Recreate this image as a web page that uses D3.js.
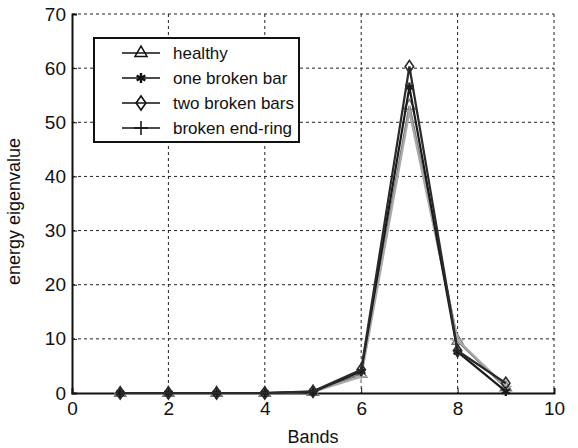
<!DOCTYPE html>
<html>
<head>
<meta charset="utf-8">
<script src="https://cdn.jsdelivr.net/npm/d3@7"></script>
<style>
  body { margin: 0; background: #fff; }
  text { font-family: "Liberation Sans", Arial, sans-serif; fill: #111; }
</style>
</head>
<body>
<svg id="chart"></svg>
<script>
// bands on x, energy on y
var bands = [1, 2, 3, 4, 5, 6, 7, 8, 9];
var healthy = [0, 0, 0, 0, 0.2, 3.5, 53, 9.6, 1.0];
var oneBar = [0, 0, 0, 0, 0.2, 4.0, 56.5, 7.6, 0.3];
var twoBars = [0, 0, 0, 0, 0.3, 4.3, 60.3, 7.8, 1.8];
var endRing = [0, 0, 0, 0, 0.2, 3.0, 52, 9.8, 1.2];
var seriesNames = ['healthy', 'one broken bar', 'two broken bars', 'broken end-ring'];
var xTicks = [0, 2, 4, 6, 8, 10];
var yTicks = [0, 10, 20, 30, 40, 50, 60, 70];

var margin = {top: 14, right: 24, bottom: 55, left: 72};
var width = 578 - margin.left - margin.right;
var height = 448 - margin.top - margin.bottom;

var svg = d3.select('#chart')
  .attr('width', 578)
  .attr('height', 448);

var g = svg.append('g')
  .attr('transform', 'translate(' + margin.left + ',' + margin.top + ')');

var x = d3.scaleLinear().domain([0, 10]).range([0, width]);
var y = d3.scaleLinear().domain([0, 70]).range([height, 0]);

// grid (dashed)
g.selectAll('.vgrid')
  .data(xTicks.slice(1))
  .enter().append('line')
    .attr('x1', d => x(d)).attr('x2', d => x(d))
    .attr('y1', 0).attr('y2', height)
    .attr('stroke', '#222').attr('stroke-width', 1)
    .attr('stroke-dasharray', '3,3');
g.selectAll('.hgrid')
  .data(yTicks.slice(1))
  .enter().append('line')
    .attr('x1', 0).attr('x2', width)
    .attr('y1', d => y(d)).attr('y2', d => y(d))
    .attr('stroke', '#222').attr('stroke-width', 1)
    .attr('stroke-dasharray', '3,3');

// axes
var xAxis = d3.axisBottom(x).tickValues(xTicks).tickSize(-5).tickPadding(9);
var yAxis = d3.axisLeft(y).tickValues(yTicks).tickSize(-5).tickPadding(6);

var gx = g.append('g')
  .attr('transform', 'translate(0,' + height + ')')
  .call(xAxis);
var gy = g.append('g').call(yAxis);

[gx, gy].forEach(function(a) {
  a.select('.domain').attr('stroke', '#111').attr('stroke-width', 2);
  a.selectAll('.tick line').attr('stroke', '#111');
  a.selectAll('text').style('font-size', '19px').attr('fill', '#111');
});

g.append('text')
  .attr('x', width / 2)
  .attr('y', height + 50)
  .attr('text-anchor', 'middle')
  .style('font-size', '18px')
  .text('Bands');

g.append('text')
  .attr('transform', 'rotate(-90)')
  .attr('x', -height / 2 - 8)
  .attr('y', -52)
  .attr('text-anchor', 'middle')
  .style('font-size', '18px')
  .text('energy eigenvalue');

var series = [
  {name: seriesNames[0], values: healthy, color: '#777', marker: 'triangle'},
  {name: seriesNames[3], values: endRing, color: '#aaa', marker: 'plus'},
  {name: seriesNames[1], values: oneBar, color: '#1a1a1a', marker: 'star'},
  {name: seriesNames[2], values: twoBars, color: '#2a2a2a', marker: 'diamond'}
];

var line = d3.line()
  .x((d, i) => x(bands[i]))
  .y(d => y(d));

function drawMarker(sel, type, color, size) {
  if (type === 'triangle') {
    sel.append('path')
      .attr('d', d3.symbol().type(d3.symbolTriangle).size(size * 9))
      .attr('fill', 'none').attr('stroke', color).attr('stroke-width', 1.5);
  } else if (type === 'diamond') {
    sel.append('path')
      .attr('d', 'M0,-' + size + 'L' + (size * 0.7) + ',0L0,' + size + 'L-' + (size * 0.7) + ',0Z')
      .attr('fill', 'none').attr('stroke', color).attr('stroke-width', 1.6);
  } else if (type === 'star') {
    sel.append('path')
      .attr('d', d3.symbol().type(d3.symbolAsterisk).size(size * 10))
      .attr('fill', 'none').attr('stroke', color).attr('stroke-width', 2.4);
  } else {
    sel.append('path')
      .attr('d', 'M-' + size + ',0H' + size + 'M0,-' + size + 'V' + size)
      .attr('fill', 'none').attr('stroke', color).attr('stroke-width', 1.5);
  }
}

series.forEach(function(s) {
  g.append('path')
    .datum(s.values)
    .attr('d', line)
    .attr('fill', 'none')
    .attr('stroke', s.color)
    .attr('stroke-width', 2.2);
  s.values.forEach(function(v, i) {
    var m = g.append('g')
      .attr('transform', 'translate(' + x(bands[i]) + ',' + y(v) + ')');
    drawMarker(m, s.marker, s.color, 6);
  });
});

// legend
var legend = svg.append('g').attr('transform', 'translate(94,38)');
legend.append('rect')
  .attr('width', 205).attr('height', 104)
  .attr('fill', '#fff').attr('stroke', '#111').attr('stroke-width', 2);

var legendItems = [
  {name: seriesNames[0], marker: 'triangle'},
  {name: seriesNames[1], marker: 'star'},
  {name: seriesNames[2], marker: 'diamond'},
  {name: seriesNames[3], marker: 'plus'}
];

legendItems.forEach(function(d, i) {
  var ly = 15 + i * 25;
  legend.append('line')
    .attr('x1', 28).attr('x2', 66)
    .attr('y1', ly).attr('y2', ly)
    .attr('stroke', '#111').attr('stroke-width', 1.5);
  var m = legend.append('g').attr('transform', 'translate(47,' + ly + ')');
  drawMarker(m, d.marker, '#111', 7);
  legend.append('text')
    .attr('x', 79).attr('y', ly + 6)
    .style('font-size', '17px')
    .text(d.name);
});
</script>
</body>
</html>
